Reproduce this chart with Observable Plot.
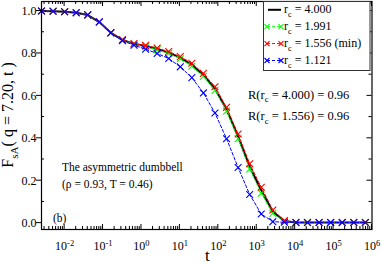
<!DOCTYPE html>
<html><head><meta charset="utf-8">
<script src="https://cdn.jsdelivr.net/npm/d3@7"></script>
<script src="https://cdn.jsdelivr.net/npm/@observablehq/plot@0.6"></script>
<style>
body{margin:0;padding:0;background:#fff;}
#chart{width:382px;height:264px;overflow:hidden;}
#chart svg, #chart svg text{font-family:"Liberation Serif","Times New Roman",serif !important;}
</style></head><body><div id="chart"></div>
<script>
// time points (t)
const times = [0.0025, 0.005, 0.01, 0.02, 0.04, 0.08, 0.16, 0.32, 0.64, 1.28, 2.56, 5.12, 10.24, 20.48, 40.96, 81.92, 163.84, 327.68, 655.36, 1310.72, 2621.44, 5242.88, 10485.76, 20971.52, 41943.04, 83886.08, 167772.16, 335544.32, 671088.64];
// F_sA(q=7.20,t) for each r_c
const fRc4000 = [1.000, 0.999, 0.997, 0.992, 0.981, 0.948, 0.897, 0.864, 0.845, 0.835, 0.821, 0.804, 0.779, 0.746, 0.698, 0.633, 0.536, 0.408, 0.266, 0.155, 0.054, 0.010, 0.003, 0.003, 0.003, 0.003, 0.003, 0.003, 0.003];
const fRc1991 = [1.000, 0.999, 0.997, 0.992, 0.981, 0.948, 0.897, 0.863, 0.844, 0.832, 0.817, 0.800, 0.775, 0.740, 0.692, 0.626, 0.528, 0.398, 0.255, 0.141, 0.046, 0.008, 0.003, 0.003, 0.003, 0.003, 0.003, 0.003, 0.003];
const fRc1556 = [1.000, 0.999, 0.997, 0.992, 0.982, 0.949, 0.898, 0.865, 0.847, 0.838, 0.825, 0.809, 0.785, 0.754, 0.706, 0.643, 0.546, 0.420, 0.280, 0.169, 0.062, 0.012, 0.003, 0.003, 0.003, 0.003, 0.003, 0.003, 0.003];
const fRc1121 = [1.000, 0.999, 0.997, 0.992, 0.982, 0.949, 0.897, 0.860, 0.839, 0.820, 0.800, 0.776, 0.737, 0.686, 0.614, 0.519, 0.398, 0.262, 0.135, 0.043, 0.007, 0.004, 0.003, 0.003, 0.003, 0.003, 0.003, 0.003, 0.003];
const legendLabels = ["4.000", "1.991", "1.556 (min)", "1.121"];
const seriesColors = ["#000000", "#00ff00", "#ff0000", "#0000ff"];
const xTicks = [1e-2, 1e-1, 1e0, 1e1, 1e2, 1e3, 1e4, 1e5, 1e6];
const yTicks = [0, 0.2, 0.4, 0.6, 0.8, 1.0];
const yMinorTicks = [0.1, 0.3, 0.5, 0.7, 0.9];
const rText = [["4.000", "0.96"], ["1.556", "0.96"]];

(function () {
const toRows = vals => times.map((t, i) => ({t, f: vals[i]}));
const black = toRows(fRc4000), green = toRows(fRc1991), red = toRows(fRc1556), blue = toRows(fRc1121);

const dashed = (data, color) => [
  Plot.line(data, {x: "t", y: "f", stroke: color, strokeWidth: 1, strokeDasharray: "3,2"}),
  Plot.dot(data, {x: "t", y: "f", symbol: "times", r: 3.2, stroke: color, strokeWidth: 1.1})
];

const plot = Plot.plot({
  width: 382, height: 264,
  marginLeft: 41, marginRight: 10.5, marginTop: 1, marginBottom: 35,
  style: {fontSize: "12px", background: "white", color: "black"},
  x: {type: "log", domain: [0.0025, 1e6]},
  y: {domain: [-0.03, 1.045]},
  marks: [
    Plot.line(black, {x: "t", y: "f", stroke: seriesColors[0], strokeWidth: 2}),
    ...dashed(green, seriesColors[1]),
    ...dashed(red, seriesColors[2]),
    ...dashed(blue, seriesColors[3]),
    Plot.frame({stroke: "black", strokeWidth: 1.2}),
    Plot.axisX({ticks: xTicks, tickSize: 0, tickPadding: 12, fontSize: 12, label: null,
      tickFormat: d => "10^" + Math.round(Math.log10(d))}),
    Plot.axisY({ticks: yTicks, tickSize: 0, tickPadding: 5, fontSize: 12, label: null,
      tickFormat: d3.format(".1f")})
  ]
});
document.getElementById("chart").appendChild(plot);

const svg = d3.select(plot);
const xs = plot.scale("x"), ys = plot.scale("y");
const X = v => xs.apply(v), Y = v => ys.apply(v);
const [pL, pR] = xs.range, [pB, pT] = ys.range;

// superscript tick labels
svg.selectAll('[aria-label="x-axis tick label"] text').each(function () {
  const el = d3.select(this);
  const m = el.text().match(/^10\^(-?\d+)$/);
  if (!m) return;
  el.text("10");
  el.append("tspan").attr("dy", "-0.45em").attr("font-size", "8.5px").text(m[1]);
});

// ticks
const tg = svg.append("g").attr("stroke", "black").attr("stroke-width", 1).attr("fill", "none");
const seg = (x1, y1, x2, y2) => tg.append("line").attr("x1", x1).attr("y1", y1).attr("x2", x2).attr("y2", y2);
const minorX = [];
for (let e = -3; e < 6; e++) for (let k = 2; k <= 9; k++) {
  const v = k * Math.pow(10, e);
  if (v >= 0.0025 && v <= 1e6) minorX.push(v);
}
xTicks.forEach(v => { const x = X(v); seg(x, pB, x, pB - 5); seg(x, pT, x, pT + 5); });
minorX.forEach(v => { const x = X(v); seg(x, pB, x, pB - 3); seg(x, pT, x, pT + 3); });
yTicks.forEach(v => { const y = Y(v); seg(pL, y, pL - 5, y); seg(pR, y, pR - 5, y); });
yMinorTicks.forEach(v => { const y = Y(v); seg(pL, y, pL + 3, y); seg(pR, y, pR - 3, y); });

function richText(g, x, y, parts, size, opts = {}) {
  const t = g.append("text").attr("x", x).attr("y", y).attr("font-size", size).attr("fill", "black")
    .attr("text-anchor", opts.anchor || "start");
  if (opts.transform) t.attr("transform", opts.transform);
  let shifted = false;
  parts.forEach(([s, kind]) => {
    const sp = t.append("tspan").text(s);
    if (kind === "sub") { sp.attr("font-size", size * 0.7).attr("dy", size * 0.3); shifted = true; }
    else if (shifted) { sp.attr("dy", -size * 0.3); shifted = false; }
  });
  return t;
}

const ag = svg.append("g");
const lg = ag.append("g");
lg.append("rect").attr("x", 263.5).attr("y", 1.5).attr("width", 106.5).attr("height", 69)
  .attr("fill", "white").attr("stroke", "#333").attr("stroke-width", 1);
legendLabels.forEach((lab, i) => {
  const by = 13.3 + i * 16.9, cy = by - 3.5;
  const c = seriesColors[i];
  if (i === 0) {
    lg.append("line").attr("x1", 268).attr("x2", 281).attr("y1", cy).attr("y2", cy).attr("stroke", c).attr("stroke-width", 2);
  } else {
    lg.append("line").attr("x1", 267).attr("x2", 281).attr("y1", cy).attr("y2", cy).attr("stroke", c).attr("stroke-width", 1).attr("stroke-dasharray", "3,2");
    [267, 281].forEach(x => lg.append("path").attr("d", `M${x-2.5},${cy-2.5}L${x+2.5},${cy+2.5}M${x-2.5},${cy+2.5}L${x+2.5},${cy-2.5}`).attr("stroke", c).attr("stroke-width", 1.1));
  }
  richText(lg, 284, by, [["r", null], ["c", "sub"], [" = " + lab, null]], 12);
});

rText.forEach(([rc, val], i) => {
  richText(ag, 248, 98.5 + i * 21.5, [["R(r", null], ["c", "sub"], [" = " + rc + ") = " + val, null]], 12.5);
});
richText(ag, 62, 170.5, [["The asymmetric dumbbell", null]], 11.5);
richText(ag, 62, 187.5, [["(\u03c1 = 0.93, T = 0.46)", null]], 11.5);
richText(ag, 53, 222, [["(b)", null]], 11.5);
richText(ag, (pL + pR) / 2 + 1, 261, [["t", null]], 17, {anchor: "middle"});
richText(ag, 0, 0, [["F", null], ["sA", "sub"], ["( q = 7.20, t )", null]], 16, {anchor: "middle", transform: `translate(13,${(pT + pB) / 2}) rotate(-90)`});
})();
</script></body></html>
